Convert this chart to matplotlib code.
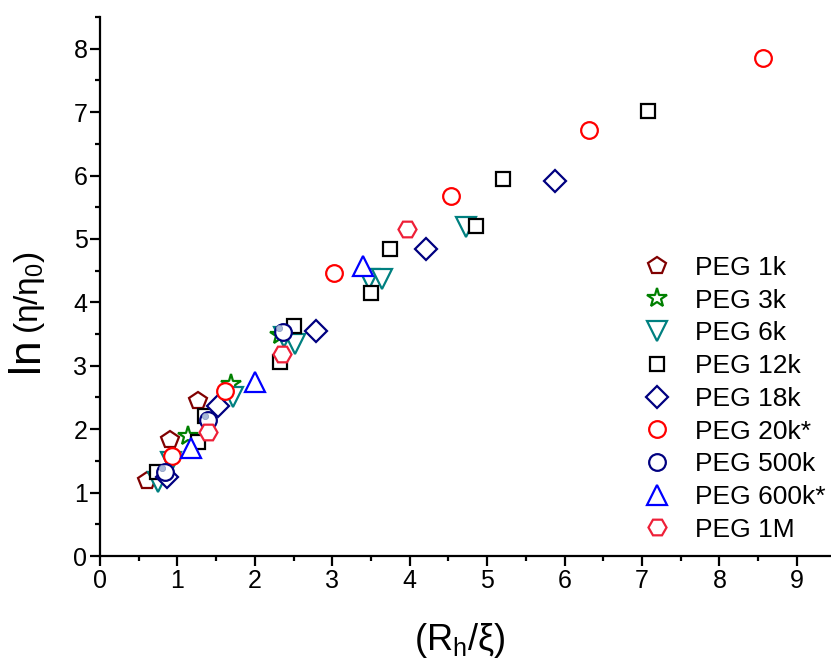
import matplotlib
matplotlib.use("Agg")
import matplotlib.pyplot as plt
import matplotlib.transforms as mtransforms
from matplotlib import font_manager
from matplotlib.ticker import MultipleLocator

# narrow font for axes text if available (reference uses a condensed sans)
names = {f.name for f in font_manager.fontManager.ttflist}
narrow = 'Liberation Sans Narrow' if 'Liberation Sans Narrow' in names else 'Liberation Sans'
plt.rcParams['font.family'] = ['Liberation Sans', 'DejaVu Sans']
plt.rcParams['mathtext.fontset'] = 'custom'
plt.rcParams['mathtext.rm'] = narrow
plt.rcParams['mathtext.it'] = narrow

# data: x = Rh/xi, y = ln(eta/eta0)
peg1k_x = [0.61, 0.90, 1.26]
peg1k_y = [1.18, 1.83, 2.44]
peg3k_x = [1.13, 1.69, 2.33]
peg3k_y = [1.89, 2.71, 3.48]
peg6k_x = [0.75, 0.92, 1.72, 2.38, 2.52, 3.47, 3.64, 4.73]
peg6k_y = [1.17, 1.48, 2.50, 3.45, 3.35, 4.37, 4.37, 5.19]
peg12k_x = [0.74, 1.26, 1.36, 2.33, 2.50, 3.50, 3.75, 4.85, 5.21, 7.08]
peg12k_y = [1.33, 1.79, 2.20, 3.06, 3.62, 4.14, 4.84, 5.21, 5.95, 7.01]
peg18k_x = [0.86, 1.53, 2.79, 4.21, 5.88]
peg18k_y = [1.25, 2.36, 3.55, 4.84, 5.91]
peg20k_x = [0.93, 1.61, 3.02, 4.53, 6.31, 8.56]
peg20k_y = [1.57, 2.60, 4.47, 5.68, 6.72, 7.86]
peg500k_x = [0.84, 1.40, 2.36]
peg500k_y = [1.33, 2.15, 3.54]
peg600k_x = [1.18, 2.00, 3.40]
peg600k_y = [1.70, 2.75, 4.58]
peg1M_x = [1.40, 2.35, 3.97]
peg1M_y = [1.95, 3.19, 5.16]

fig = plt.figure(figsize=(8.31, 6.62), dpi=100)
ax = fig.add_axes([100/831, 106/662, 731/831, 539/662])

mew = 1.6
ax.plot(peg1k_x, peg1k_y, 'p', ms=13, mfc='white', mec='#800000', mew=mew, label='PEG 1k', zorder=3)
ax.plot(peg3k_x, peg3k_y, '*', ms=15, mfc='white', mec='#008000', mew=mew, label='PEG 3k', zorder=3)
ax.plot(peg6k_x, peg6k_y, 'v', ms=14, mfc='white', mec='#008080', mew=mew, label='PEG 6k', zorder=3)
ax.plot(peg12k_x, peg12k_y, 's', ms=10, mfc='white', mec='black', mew=mew, label='PEG 12k', zorder=3)
ax.plot(peg18k_x, peg18k_y, 'D', ms=11.5, mfc='white', mec='#000080', mew=mew, label='PEG 18k', zorder=3)
ax.plot(peg20k_x, peg20k_y, 'o', ms=12, mfc='white', mec='#FF0000', mew=mew, label='PEG 20k*', zorder=3)
ax.plot(peg500k_x, peg500k_y, 'o', ms=12, mfc='white', mec='#000080', mew=mew, label='PEG 500k', zorder=3)
# little shiny dot inside the 500k circles
shift = mtransforms.offset_copy(ax.transData, fig=fig, x=-2.5, y=2.5, units='points')
ax.plot(peg500k_x, peg500k_y, 'o', ms=4.5, mfc='#A8B8D8', mec='#8898C0', mew=0.5,
        transform=shift, zorder=3)
ax.plot(peg600k_x, peg600k_y, '^', ms=14, mfc='white', mec='#0000FF', mew=mew, label='PEG 600k*', zorder=3)
ax.plot(peg1M_x, peg1M_y, 'H', ms=13, mfc='white', mec='#EE2038', mew=mew, label='PEG 1M', zorder=3)

ax.set_xlim(0, 9.44)
ax.set_ylim(0, 8.5)
ax.xaxis.set_major_locator(MultipleLocator(1))
ax.xaxis.set_minor_locator(MultipleLocator(0.5))
ax.yaxis.set_major_locator(MultipleLocator(1))
ax.yaxis.set_minor_locator(MultipleLocator(0.5))

for s in ['top', 'right']:
    ax.spines[s].set_visible(False)
for s in ['left', 'bottom']:
    ax.spines[s].set_linewidth(1.6)
ax.tick_params(which='major', direction='out', length=7, width=1.6, pad=2)
ax.tick_params(which='minor', direction='out', length=3.5, width=1.6)
for lab in ax.get_xticklabels() + ax.get_yticklabels():
    lab.set_family(narrow)
    lab.set_fontsize(18)

fig.text(460/831, 1 - 640/662, '(R$_\\mathregular{h}$/ξ)', family=narrow, fontsize=26,
         ha='center', va='center')
# y label: big "ln" followed by a smaller (eta/eta0), as in the original
fig.text(38/831, 1 - 372/662, 'ln', family=narrow, fontsize=32,
         rotation=90, rotation_mode='anchor', ha='left', va='baseline')
fig.text(38/831, 1 - 334/662, '(η/η$_0$)', family=narrow, fontsize=24,
         rotation=90, rotation_mode='anchor', ha='left', va='baseline')

leg = ax.legend(loc='upper left', bbox_to_anchor=(641/831, 1 - 256/662),
                bbox_transform=fig.transFigure, frameon=False, fontsize=19,
                numpoints=1, handlelength=1.2, handletextpad=0.85, labelspacing=0.33,
                borderpad=0, borderaxespad=0)

fig.savefig('out.png', dpi=100)
